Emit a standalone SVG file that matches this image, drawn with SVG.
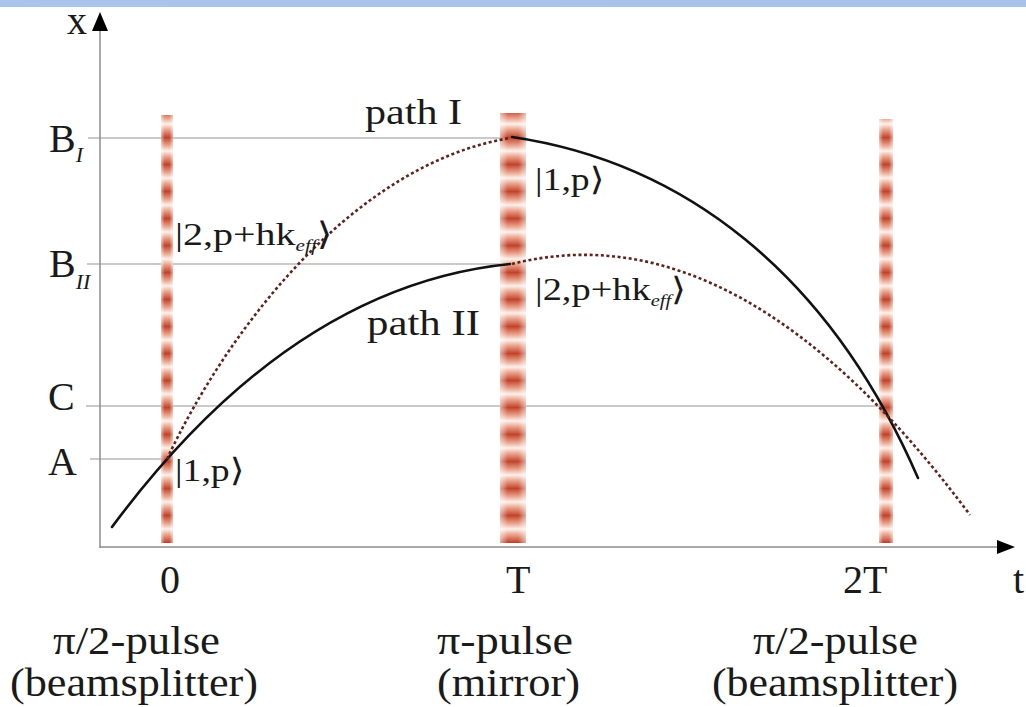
<svg xmlns="http://www.w3.org/2000/svg" width="1026" height="707" viewBox="0 0 1026 707">
<defs>
<style>
text{font-family:"Liberation Serif","DejaVu Serif",serif;fill:#1a1a1a}
.ax{font-size:40px}
.bl{font-size:40px}
.lab{font-size:36px}
.ket{font-size:32px}
.sub{font-style:italic}
.grid{stroke:#b8b8b8;stroke-width:1.5;fill:none}
.axis{stroke:#8c8c8c;stroke-width:1.5;fill:none}
.solid{stroke:#111;stroke-width:2.6;fill:none;stroke-linecap:round}
.dot{stroke:#5e241d;stroke-width:2.6;fill:none;stroke-dasharray:3 2.6}
</style>
<linearGradient id="stripe" gradientUnits="userSpaceOnUse" x1="0" y1="124" x2="0" y2="151" spreadMethod="repeat">
<stop offset="0" stop-color="#fdf0ea"/>
<stop offset="0.2" stop-color="#eba58f"/>
<stop offset="0.5" stop-color="#c2432a"/>
<stop offset="0.8" stop-color="#eba58f"/>
<stop offset="1" stop-color="#fdf0ea"/>
</linearGradient>
<linearGradient id="edge" x1="0" y1="0" x2="1" y2="0">
<stop offset="0" stop-color="#fff" stop-opacity="0.55"/>
<stop offset="0.3" stop-color="#fff" stop-opacity="0"/>
<stop offset="0.7" stop-color="#fff" stop-opacity="0"/>
<stop offset="1" stop-color="#fff" stop-opacity="0.55"/>
</linearGradient>
<linearGradient id="topbar" x1="0" y1="0" x2="1" y2="0">
<stop offset="0" stop-color="#a9c4ea"/>
<stop offset="1" stop-color="#a6c2ea"/>
</linearGradient>
</defs>
<rect width="1026" height="707" fill="#ffffff"/>
<rect x="0" y="0" width="1026" height="7" fill="url(#topbar)"/>

<g id="grid">
<line class="grid" x1="88" y1="138" x2="510" y2="138"/>
<line class="grid" x1="87" y1="264" x2="510" y2="264"/>
<line class="grid" x1="86" y1="406" x2="886" y2="406"/>
<line class="grid" x1="90" y1="459" x2="167" y2="459"/>
</g>

<g id="pulses">
<g id="pulse-0"><rect x="161" y="115" width="12" height="428" fill="url(#stripe)"/><rect x="161" y="115" width="12" height="428" fill="url(#edge)"/></g>
<g id="pulse-T"><rect x="500" y="113" width="26" height="430" fill="url(#stripe)"/><rect x="500" y="113" width="26" height="430" fill="url(#edge)"/></g>
<g id="pulse-2T"><rect x="879" y="119" width="14" height="424" fill="url(#stripe)"/><rect x="879" y="119" width="14" height="424" fill="url(#edge)"/></g>
</g>

<g id="axes">
<line class="axis" x1="100" y1="28" x2="100" y2="548"/>
<line class="axis" x1="100" y1="547" x2="1000" y2="547"/>
<polygon points="100,12 92,31 108,31" fill="#000"/>
<polygon points="1015,547 997,540 997,554" fill="#000"/>
</g>

<g id="connectors">
<path class="solid" d="M112,527 Q291,286 510,264"/>
<path class="dot" d="M167,459 C225,335 350,165 510,138"/>
<path class="solid" d="M512,137 C682,162 828,271 918,478"/>
<path class="dot" d="M512,264 Q740,206 970,515"/>
</g>

<g id="axis-labels">
<text class="ax" x="67" y="34" font-size="30">x</text>
<text class="ax" x="49" y="152">B<tspan class="sub" font-size="22" dy="10">I</tspan></text>
<text class="ax" x="49" y="277">B<tspan class="sub" font-size="22" dy="12">II</tspan></text>
<text class="ax" x="48" y="410">C</text>
<text class="ax" x="48" y="475">A</text>
</g>

<g id="path-labels">
<text class="lab" x="365" y="124" textLength="97" lengthAdjust="spacingAndGlyphs">path I</text>
<text class="lab" x="367" y="335" textLength="113" lengthAdjust="spacingAndGlyphs">path II</text>
</g>

<g id="kets">
<text class="ket" font-size="30" transform="translate(175,481) scale(1.18,1)">|1,p⟩</text>
<text class="ket" transform="translate(535,190) scale(1.18,1)">|1,p⟩</text>
<text class="ket" font-size="34" transform="translate(175,245) scale(1.25,1)">|2,p+hk<tspan class="sub" font-size="17" dy="6">eff</tspan><tspan dy="-6">⟩</tspan></text>
<text class="ket" font-size="34" transform="translate(535,300) scale(1.2,1)">|2,p+hk<tspan class="sub" font-size="17" dy="6">eff</tspan><tspan dy="-6">⟩</tspan></text>
</g>

<g id="time-labels">
<text class="bl" x="160" y="593">0</text>
<text class="bl" x="53" y="654" textLength="167" lengthAdjust="spacingAndGlyphs">π/2-pulse</text>
<text class="bl" x="10" y="696" textLength="248" lengthAdjust="spacingAndGlyphs">(beamsplitter)</text>
<text class="bl" x="506" y="593">T</text>
<text class="bl" x="437" y="654" textLength="136" lengthAdjust="spacingAndGlyphs">π-pulse</text>
<text class="bl" x="437" y="696" textLength="143" lengthAdjust="spacingAndGlyphs">(mirror)</text>
<text class="bl" x="843" y="593">2T</text>
<text class="bl" x="753" y="654" textLength="165" lengthAdjust="spacingAndGlyphs">π/2-pulse</text>
<text class="bl" x="712" y="696" textLength="246" lengthAdjust="spacingAndGlyphs">(beamsplitter)</text>
<text class="bl" x="1013" y="593">t</text>
</g>
</svg>
